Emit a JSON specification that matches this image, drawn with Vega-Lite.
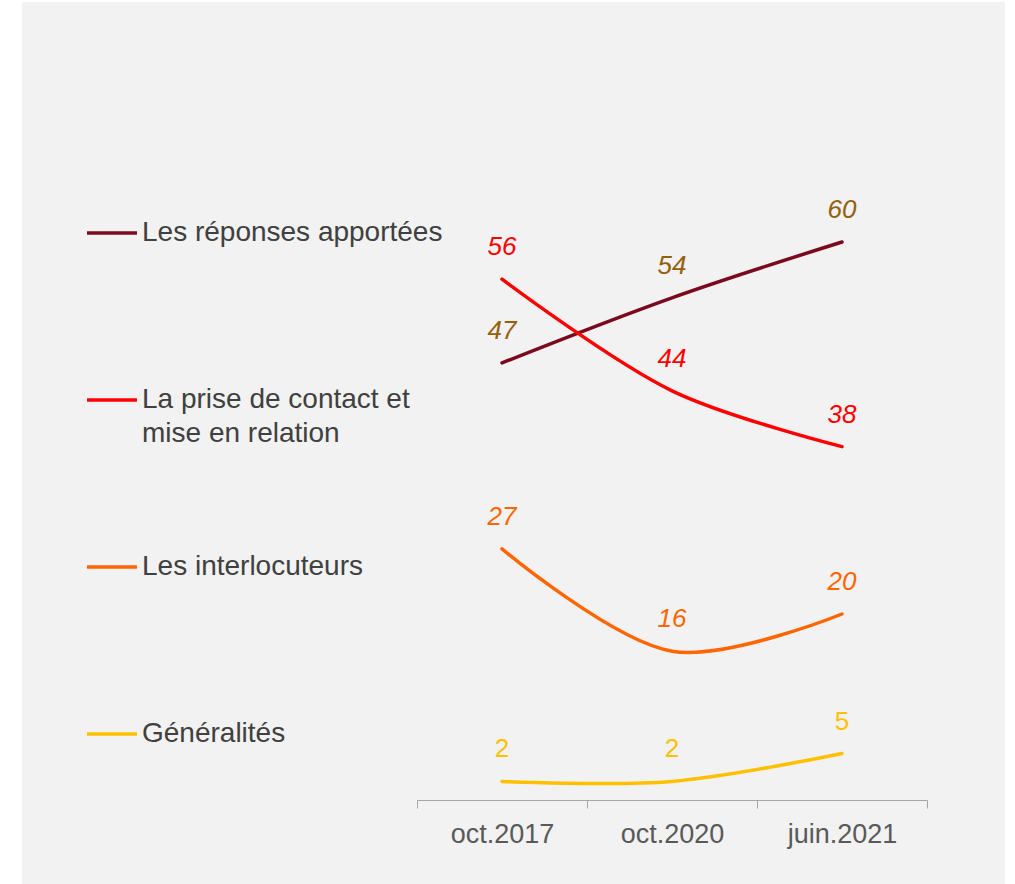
{
  "$schema": "https://vega.github.io/schema/vega-lite/v6.json",
  "width": 983,
  "height": 882,
  "autosize": {"type": "none"},
  "padding": {"left": 22, "top": 2, "right": 10, "bottom": 0},
  "background": "white",
  "config": {
    "view": {"stroke": null, "fill": "#F2F2F2"},
    "font": "Liberation Sans"
  },
  "data": {
    "values": [
      {"series": "Les réponses apportées", "period": "oct.2017", "value": 47},
      {"series": "Les réponses apportées", "period": "oct.2020", "value": 54},
      {"series": "Les réponses apportées", "period": "juin.2021", "value": 60},
      {"series": "La prise de contact et mise en relation", "period": "oct.2017", "value": 56},
      {"series": "La prise de contact et mise en relation", "period": "oct.2020", "value": 44},
      {"series": "La prise de contact et mise en relation", "period": "juin.2021", "value": 38},
      {"series": "Les interlocuteurs", "period": "oct.2017", "value": 27},
      {"series": "Les interlocuteurs", "period": "oct.2020", "value": 16},
      {"series": "Les interlocuteurs", "period": "juin.2021", "value": 20},
      {"series": "Généralités", "period": "oct.2017", "value": 2},
      {"series": "Généralités", "period": "oct.2020", "value": 2},
      {"series": "Généralités", "period": "juin.2021", "value": 5}
    ]
  },
  "encoding": {
    "x": {
      "field": "period",
      "type": "nominal",
      "sort": ["oct.2017", "oct.2020", "juin.2021"],
      "scale": {"type": "band", "paddingInner": 0, "paddingOuter": 0, "range": [395, 905]},
      "axis": {
        "title": null,
        "orient": "bottom",
        "offset": -84,
        "tickBand": "extent",
        "domainColor": "#A6A6A6",
        "tickColor": "#A6A6A6",
        "tickSize": 8,
        "labelAngle": 0,
        "labelColor": "#595959",
        "labelFontSize": 27,
        "labelPadding": 13,
        "labelFont": "Liberation Sans"
      }
    },
    "y": {
      "field": "value",
      "type": "quantitative",
      "scale": {"domain": [0, 60], "range": [798, 240], "nice": false, "zero": false},
      "axis": null
    }
  },
  "layer": [
    {
      "mark": {"type": "line", "interpolate": "catmull-rom", "strokeWidth": 3.5, "strokeCap": "round"},
      "encoding": {
        "color": {
          "field": "series",
          "type": "nominal",
          "sort": ["Les réponses apportées", "La prise de contact et mise en relation", "Les interlocuteurs", "Généralités"],
          "scale": {
            "domain": ["Les réponses apportées", "La prise de contact et mise en relation", "Les interlocuteurs", "Généralités"],
            "range": ["#7B0A1E", "#FF0000", "#FF6600", "#FFC000"]
          },
          "legend": {
            "title": null,
            "orient": "none",
            "legendX": 63,
            "legendY": 204,
            "padding": 0,
            "symbolType": "stroke",
            "symbolSize": 2500,
            "symbolStrokeWidth": 3.5,
            "labelFont": "Liberation Sans",
            "labelFontSize": 28,
            "labelColor": "#404040",
            "labelLimit": 0,
            "labelOffset": 3,
            "labelBaseline": "top",
            "gridAlign": "all",
            "rowPadding": 92,
            "labelExpr": "datum.label == 'La prise de contact et mise en relation' ? ['La prise de contact et', 'mise en relation'] : datum.label",
            "encode": {
              "labels": {"update": {"dy": {"value": -14}, "lineHeight": {"value": 34}}}
            }
          }
        }
      }
    },
    {
      "transform": [{"filter": "datum.series != 'Généralités'"}],
      "mark": {"type": "text", "fontStyle": "italic", "fontSize": 26, "dy": -32, "font": "Liberation Sans"},
      "encoding": {
        "text": {"field": "value", "type": "quantitative"},
        "color": {
          "field": "series",
          "type": "nominal",
          "scale": {
            "domain": ["Les réponses apportées", "La prise de contact et mise en relation", "Les interlocuteurs", "Généralités"],
            "range": ["#94600A", "#FF0000", "#FF6600", "#FFC000"]
          },
          "legend": null
        }
      }
    },
    {
      "transform": [{"filter": "datum.series == 'Généralités'"}],
      "mark": {"type": "text", "fontSize": 26, "dy": -32, "font": "Liberation Sans", "color": "#FFC000"},
      "encoding": {
        "text": {"field": "value", "type": "quantitative"}
      }
    }
  ],
  "resolve": {"scale": {"color": "independent"}}
}
